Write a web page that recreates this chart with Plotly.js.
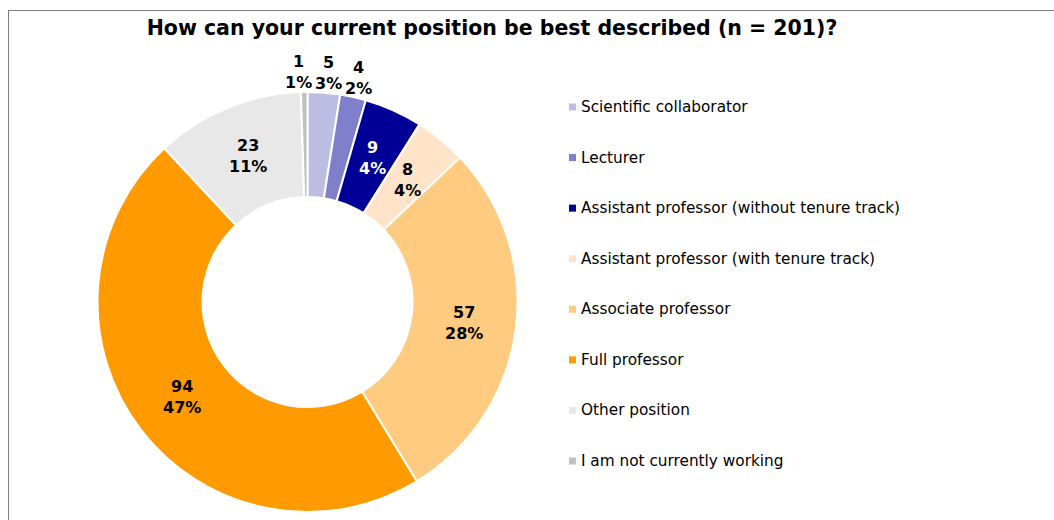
<!DOCTYPE html>
<html>
<head>
<meta charset="utf-8">
<script src="https://cdn.plot.ly/plotly-3.0.1.min.js"></script>
<style>
  html, body { margin: 0; padding: 0; background: #ffffff; }
  #chart { width: 1054px; height: 520px; }
  #frame { position: absolute; left: 8px; top: 10px; width: 1200px; height: 700px;
           border-left: 1.5px solid #7f7f7f; border-top: 1.5px solid #7f7f7f;
           pointer-events: none; z-index: 10; }
</style>
</head>
<body>
<div id="chart"></div>
<div id="frame"></div>
<script>
// ---- data ----
const categories = [
  "Scientific collaborator",
  "Lecturer",
  "Assistant professor (without tenure track)",
  "Assistant professor (with tenure track)",
  "Associate professor",
  "Full professor",
  "Other position",
  "I am not currently working"
];
const counts = [5, 4, 9, 8, 57, 94, 23, 1];
const percents = [3, 2, 4, 4, 28, 47, 11, 1];
const colors = ["#BDBDE3", "#7F7FCB", "#000096", "#FFE4CA", "#FFCB80", "#FF9A00", "#E8E8E8", "#C0C0C0"];
const textColors = ["#000000", "#000000", "#FFFFFF", "#000000", "#000000", "#000000", "#000000", "#000000"];
const labelOutside = [true, true, false, false, false, false, false, true];

const FONT = "Verdana, 'DejaVu Sans', sans-serif";
const W = 1054, H = 520;
const HOLE = 0.5;

// pie geometry (pixels) -> domain
const pieLeft = 97.5, pieRight = 517.5, pieTop = 92, pieBottom = 512;
const cx = (pieLeft + pieRight) / 2, cy = (pieTop + pieBottom) / 2;
const R = (pieRight - pieLeft) / 2;

const pie = {
  type: "pie",
  labels: categories,
  values: counts,
  sort: false,
  direction: "clockwise",
  rotation: 0,
  hole: HOLE,
  marker: { colors: colors, line: { color: "#FFFFFF", width: 2 } },
  textinfo: "none",
  showlegend: false,
  domain: { x: [pieLeft / W, pieRight / W], y: [1 - pieBottom / H, 1 - pieTop / H] },
  hoverinfo: "label+value"
};

const annotations = [];
const shapes = [];

// ---- slice labels, positioned from the data's cumulative angles ----
const LBL_SIZE = 16;
const total = counts.reduce((a, b) => a + b, 0);
const ctx = document.createElement("canvas").getContext("2d");
ctx.font = "bold " + LBL_SIZE + "px 'DejaVu Sans'";
const rMid = R * (1 + HOLE) / 2;
const rOut = R - 1;
const lblH = LBL_SIZE * 1.3 * 2;
let cum = 0;
const outs = [];
counts.forEach((v, i) => {
  const th = (cum + v / 2) / total * 2 * Math.PI;
  cum += v;
  const text = "<b>" + v + "<br>" + percents[i] + "%</b>";
  if (!labelOutside[i]) {
    annotations.push({
      xref: "paper", yref: "paper",
      x: (cx + rMid * Math.sin(th)) / W, y: 1 - (cy - rMid * Math.cos(th)) / H,
      xanchor: "center", yanchor: "middle", showarrow: false,
      text: text, font: { family: FONT, size: LBL_SIZE, color: textColors[i] }
    });
  } else {
    const w = Math.max(ctx.measureText(String(v)).width, ctx.measureText(percents[i] + "%").width);
    // label box touches a circle just at the ring's outer edge
    outs.push({ i: i, text: text, w: w,
      x: cx + rOut * Math.sin(th) + Math.sin(th) * w / 2,
      y: cy - rOut * Math.cos(th) - Math.cos(th) * lblH / 2 });
  }
});
// spread overlapping outside labels horizontally
outs.sort((a, b) => a.x - b.x);
for (let it = 0; it < 20; it++) {
  for (let k = 0; k + 1 < outs.length; k++) {
    const a = outs[k], b = outs[k + 1];
    const need = (a.w + b.w) / 2 + 3;
    const gap = b.x - a.x;
    if (gap < need) { const d = (need - gap) / 2; a.x -= d; b.x += d; }
  }
}
outs.forEach(o => {
  annotations.push({
    xref: "paper", yref: "paper",
    x: o.x / W, y: 1 - o.y / H,
    xanchor: "center", yanchor: "middle", showarrow: false,
    text: o.text, font: { family: FONT, size: LBL_SIZE, color: textColors[o.i] }
  });
});

// ---- custom legend built from categories / colors ----
const legX = 569, legTextX = 579, legY0 = 107, legStep = 50.57, sq = 7;
categories.forEach((c, i) => {
  const yc = legY0 + i * legStep;
  annotations.push({
    xref: "paper", yref: "paper",
    x: legTextX / W, y: 1 - yc / H,
    xanchor: "left", yanchor: "middle",
    text: c, showarrow: false,
    font: { family: FONT, size: 15.3, color: "#000000" }
  });
  shapes.push({
    type: "rect", xref: "paper", yref: "paper",
    x0: legX / W, x1: (legX + sq) / W,
    y0: 1 - (yc + sq / 2) / H, y1: 1 - (yc - sq / 2) / H,
    fillcolor: colors[i], line: { width: 0 }
  });
});

const layout = {
  width: W, height: H,
  margin: { l: 0, r: 0, t: 0, b: 0 },
  paper_bgcolor: "#FFFFFF",
  plot_bgcolor: "#FFFFFF",
  title: {
    text: "<b>How can your current position be best described (n = 201)?</b>",
    font: { family: FONT, size: 20.5, color: "#000000" },
    x: 492 / W, xanchor: "center", xref: "paper",
    y: 1 - 28 / H, yanchor: "middle", yref: "container"
  },
  showlegend: false,
  annotations: annotations,
  shapes: shapes
};

Plotly.newPlot("chart", [pie], layout, { displayModeBar: false, staticPlot: true });
</script>
</body>
</html>
